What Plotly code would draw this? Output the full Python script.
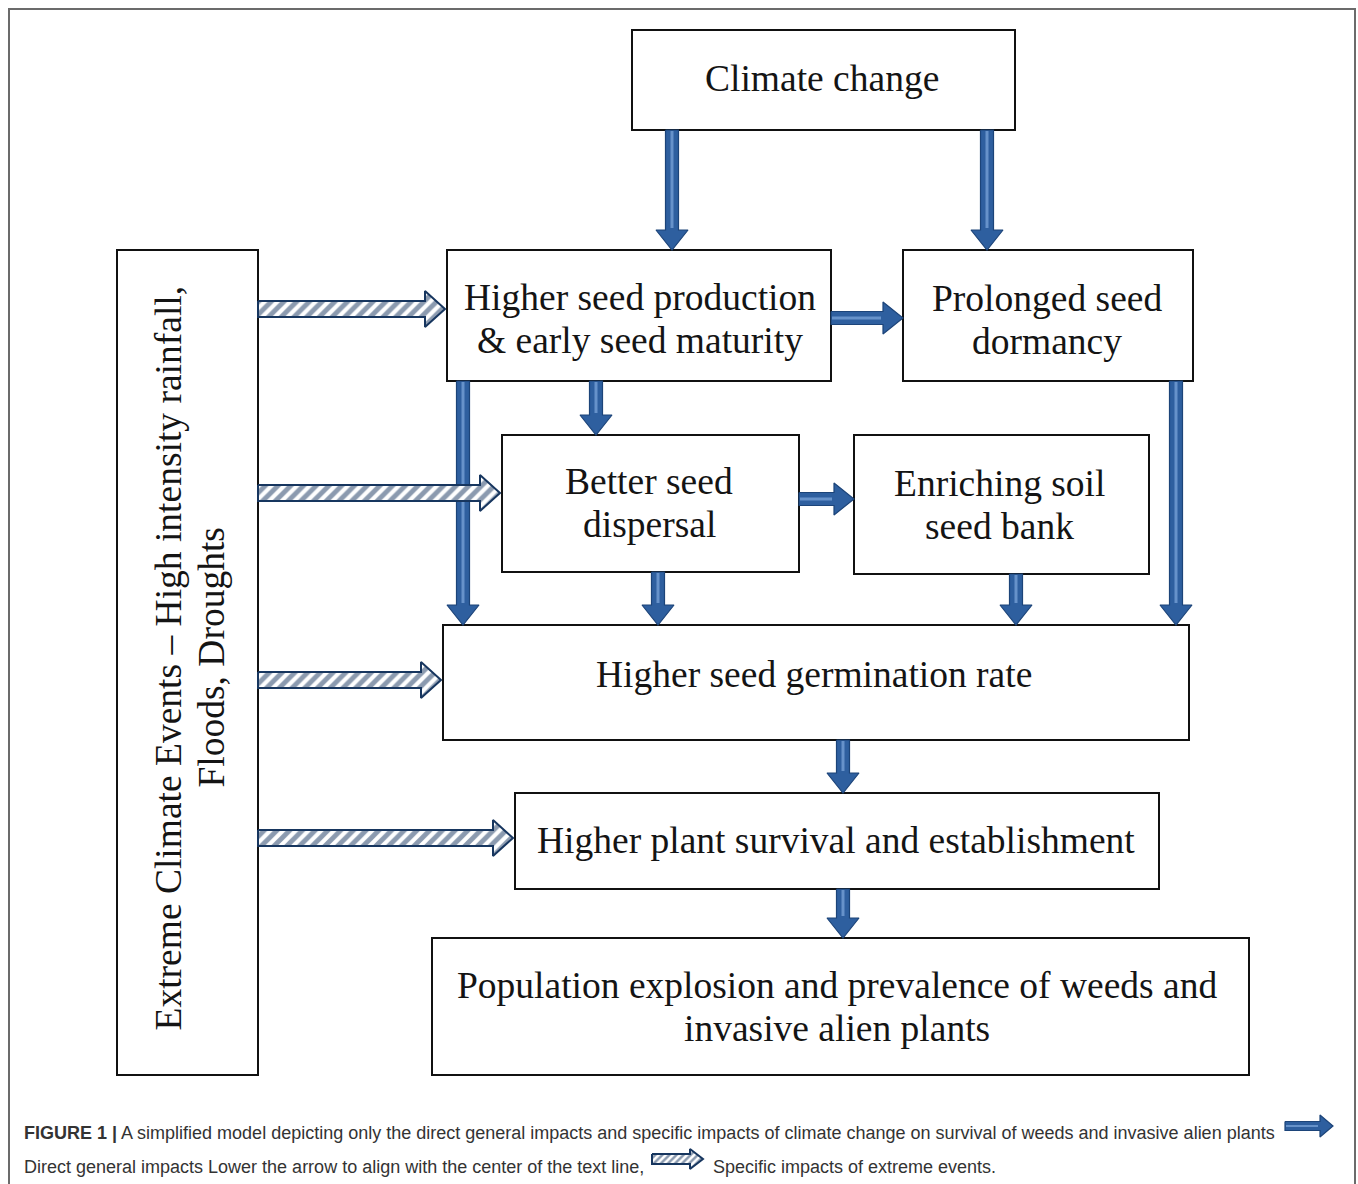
import plotly.graph_objects as go

# ---------------- content (text) ----------------
box_labels = [
    ["Climate change"],
    ["Higher seed production", "& early seed maturity"],
    ["Prolonged seed", "dormancy"],
    ["Better seed", "dispersal"],
    ["Enriching soil", "seed bank"],
    ["Higher seed germination rate"],
    ["Higher plant survival and establishment"],
    ["Population explosion and prevalence of weeds and", "invasive alien plants"],
]
side_label = ["Extreme Climate Events – High intensity rainfall,", "Floods, Droughts"]
caption_bold = "FIGURE 1 |"
caption_line1 = " A simplified model depicting only the direct general impacts and specific impacts of climate change on survival of weeds and invasive alien plants"
caption_line2a = "Direct general impacts Lower the arrow to align with the center of the text line,"
caption_line2b = "Specific impacts of extreme events."

# ---------------- layout geometry (pixels) ----------------
W, H = 1358, 1184
LINE_GAP = 43
# boxes: x0, y0, x1, y1, text center x, text center y
box_geom = [
    (632, 30, 1015, 130, 822, 78),
    (447, 250, 831, 381, 640, 319),
    (903, 250, 1193, 381, 1047, 320),
    (502, 435, 799, 572, 649, 503),
    (854, 435, 1149, 574, 999, 505),
    (443, 625, 1189, 740, 814, 674),
    (515, 793, 1159, 889, 836, 840),
    (432, 938, 1249, 1075, 837, 1007),
]
side_geom = (117, 250, 258, 1075, 189, 658)

# solid (general impact) arrows: start, end
solid_arrows = [
    ((672, 130), (672, 250)),
    ((987, 130), (987, 250)),
    ((831, 318), (903, 318)),
    ((596, 381), (596, 435)),
    ((463, 381), (463, 625)),
    ((1176, 381), (1176, 625)),
    ((799, 499), (854, 499)),
    ((658, 572), (658, 625)),
    ((1016, 574), (1016, 625)),
    ((843, 740), (843, 793)),
    ((843, 889), (843, 938)),
]
# hatched (extreme event) arrows
hatched_arrows = [
    ((258, 309), (445, 309)),
    ((258, 493), (500, 493)),
    ((258, 680), (441, 680)),
    ((258, 838), (513, 838)),
]

SERIF = "Liberation Serif, Times New Roman, serif"
SANS = "Liberation Sans, Arial, sans-serif"
BLUE = "#2E5F9F"
BLUE_DARK = "#1C4479"
BLUE_LIGHT = "#6692CA"
NAVY = "#17365F"
FS = 37.5


def arrow_poly(p0, p1, sw, hw, hl):
    (x0, y0), (x1, y1) = p0, p1
    if x0 == x1:
        s = 1 if y1 > y0 else -1
        yb = y1 - s * hl
        xs = [x0 - sw, x0 + sw, x0 + sw, x0 + hw, x0, x0 - hw, x0 - sw, x0 - sw]
        ys = [y0, y0, yb, yb, y1, yb, yb, y0]
    else:
        s = 1 if x1 > x0 else -1
        xb = x1 - s * hl
        ys = [y0 - sw, y0 + sw, y0 + sw, y0 + hw, y0, y0 - hw, y0 - sw, y0 - sw]
        xs = [x0, x0, xb, xb, x1, xb, xb, x0]
    return xs, ys


fig = go.Figure()
shapes = []
annotations = []

# outer frame
shapes.append(dict(type="rect", x0=9, y0=9, x1=1355, y1=1200,
                   line=dict(color="#6b6b6b", width=2), layer="below"))


def add_lines(lines, cx, cy, angle=0):
    n = len(lines)
    for i, ln in enumerate(lines):
        d = (i - (n - 1) / 2) * LINE_GAP
        if angle == 0:
            x, y = cx, cy + d
        else:
            x, y = cx + d, cy
        annotations.append(dict(x=x, y=y, text=ln, showarrow=False, xanchor="center", yanchor="middle",
                                textangle=angle, font=dict(family=SERIF, size=FS, color="#141414")))


for lab, (x0, y0, x1, y1, tx, ty) in zip(box_labels, box_geom):
    shapes.append(dict(type="rect", x0=x0, y0=y0, x1=x1, y1=y1,
                       line=dict(color="#111111", width=2), fillcolor="white", layer="below"))
    add_lines(lab, tx, ty)

x0, y0, x1, y1, tx, ty = side_geom
shapes.append(dict(type="rect", x0=x0, y0=y0, x1=x1, y1=y1,
                   line=dict(color="#111111", width=2), fillcolor="white", layer="below"))
add_lines(side_label, tx, ty, angle=-90)


def add_solid(p0, p1, sw=6.5, hw=16, hl=20, cw=3):
    xs, ys = arrow_poly(p0, p1, sw, hw, hl)
    fig.add_trace(go.Scatter(x=xs, y=ys, fill="toself", fillcolor=BLUE, mode="lines",
                             line=dict(color=BLUE_DARK, width=1.2), hoverinfo="skip", showlegend=False))
    (ax, ay), (bx, by) = p0, p1
    if ax == bx:
        s = 1 if by > ay else -1
        fig.add_trace(go.Scatter(x=[ax, ax], y=[ay + s * 1, by - s * (hl + 2)], mode="lines",
                                 line=dict(color=BLUE_LIGHT, width=cw), hoverinfo="skip", showlegend=False))
    else:
        s = 1 if bx > ax else -1
        fig.add_trace(go.Scatter(x=[ax + s * 1, bx - s * (hl + 2)], y=[ay, by], mode="lines",
                                 line=dict(color=BLUE_LIGHT, width=cw), hoverinfo="skip", showlegend=False))


def add_hatched(p0, p1, sw=8, hw=18, hl=20, size=9, sol=0.55):
    xs, ys = arrow_poly(p0, p1, sw, hw, hl)
    fig.add_trace(go.Scatter(x=xs, y=ys, fill="toself", fillcolor="white", mode="lines",
                             line=dict(color=NAVY, width=2),
                             fillpattern=dict(shape="/", fgcolor=NAVY, bgcolor="white", size=size, solidity=sol),
                             hoverinfo="skip", showlegend=False))


for p0, p1 in solid_arrows:
    add_solid(p0, p1)
for p0, p1 in hatched_arrows:
    add_hatched(p0, p1)

# caption
CAP = dict(family=SANS, size=18, color="#333333")
annotations.append(dict(x=22, y=1133, text="<b>" + caption_bold + "</b>" + caption_line1, showarrow=False,
                        xanchor="left", yanchor="middle", font=CAP))
annotations.append(dict(x=22, y=1167, text=caption_line2a, showarrow=False,
                        xanchor="left", yanchor="middle", font=CAP))
annotations.append(dict(x=711, y=1167, text=caption_line2b, showarrow=False,
                        xanchor="left", yanchor="middle", font=CAP))
add_solid((1285, 1126), (1333, 1126), sw=4.5, hw=11, hl=13, cw=2)
add_hatched((652, 1159), (703, 1159), sw=5, hw=10, hl=13, size=5, sol=0.5)

fig.update_layout(
    width=W, height=H, margin=dict(l=0, r=0, t=0, b=0),
    paper_bgcolor="white", plot_bgcolor="white",
    xaxis=dict(range=[0, W], visible=False, fixedrange=True),
    yaxis=dict(range=[H, 0], visible=False, fixedrange=True),
    shapes=shapes, annotations=annotations, showlegend=False,
)

fig.write_html("out.html", config={"displayModeBar": False},
               post_script="document.body.style.margin='0';document.body.style.overflow='hidden';")
